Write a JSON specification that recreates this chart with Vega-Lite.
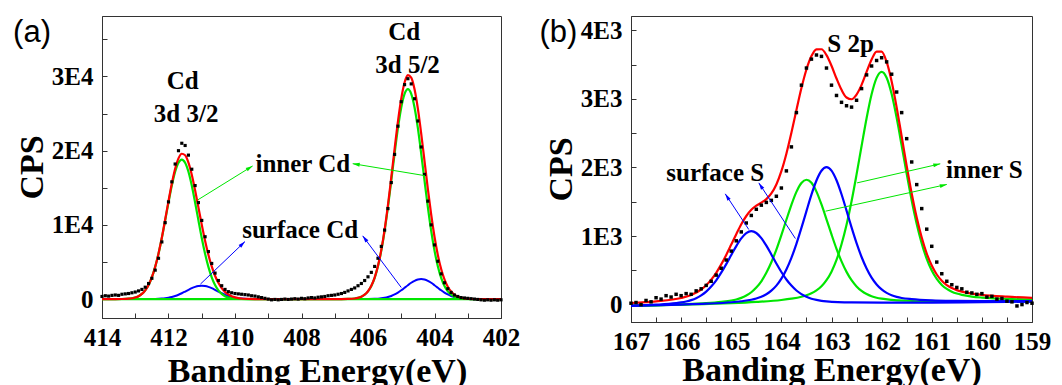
{
"$schema": "https://vega.github.io/schema/vega-lite/v6.json",
"padding": {"left": 12, "top": 15, "right": 0, "bottom": 0},
"spacing": 17,
"config": {
  "view": {"stroke": "#333", "strokeWidth": 1},
  "axis": {"labelFont": "Liberation Serif", "labelFontWeight": "bold", "labelFontSize": 25, "labelColor": "black",
    "titleFont": "Liberation Serif", "titleFontWeight": "bold", "titleFontSize": 34, "titleColor": "black",
    "domainColor": "#333", "tickColor": "#333", "grid": false, "labelFlush": false, "labelOverlap": false, "labelBound": false, "tickSize": -5}
},
"datasets": {
  "aSurf": [
    {"s":"s1","E":414,"c":0},{"s":"s1","E":412.6,"c":5},{"s":"s1","E":412.4,"c":20},{"s":"s1","E":412.3,"c":37},{"s":"s1","E":412.2,"c":66},{"s":"s1","E":412.1,"c":113},{"s":"s1","E":412.0,"c":182},{"s":"s1","E":411.9,"c":281},{"s":"s1","E":411.8,"c":415},{"s":"s1","E":411.7,"c":585},{"s":"s1","E":411.6,"c":788},{"s":"s1","E":411.5,"c":1015},{"s":"s1","E":411.4,"c":1247},{"s":"s1","E":411.3,"c":1465},{"s":"s1","E":411.2,"c":1642},{"s":"s1","E":411.1,"c":1759},{"s":"s1","E":411.0,"c":1800},{"s":"s1","E":410.9,"c":1759},{"s":"s1","E":410.8,"c":1642},{"s":"s1","E":410.7,"c":1465},{"s":"s1","E":410.6,"c":1247},{"s":"s1","E":410.5,"c":1015},{"s":"s1","E":410.4,"c":788},{"s":"s1","E":410.3,"c":585},{"s":"s1","E":410.2,"c":415},{"s":"s1","E":410.1,"c":281},{"s":"s1","E":410.0,"c":182},{"s":"s1","E":409.9,"c":113},{"s":"s1","E":409.8,"c":66},{"s":"s1","E":409.7,"c":37},{"s":"s1","E":409.6,"c":20},{"s":"s1","E":409.4,"c":5},{"s":"s1","E":402,"c":0},
    {"s":"s2","E":414,"c":0},{"s":"s2","E":406.0,"c":8},{"s":"s2","E":405.8,"c":30},{"s":"s2","E":405.7,"c":56},{"s":"s2","E":405.6,"c":100},{"s":"s2","E":405.5,"c":169},{"s":"s2","E":405.4,"c":273},{"s":"s2","E":405.3,"c":422},{"s":"s2","E":405.2,"c":623},{"s":"s2","E":405.1,"c":878},{"s":"s2","E":405.0,"c":1182},{"s":"s2","E":404.9,"c":1523},{"s":"s2","E":404.8,"c":1871},{"s":"s2","E":404.7,"c":2197},{"s":"s2","E":404.6,"c":2463},{"s":"s2","E":404.5,"c":2639},{"s":"s2","E":404.4,"c":2700},{"s":"s2","E":404.3,"c":2639},{"s":"s2","E":404.2,"c":2463},{"s":"s2","E":404.1,"c":2197},{"s":"s2","E":404.0,"c":1871},{"s":"s2","E":403.9,"c":1523},{"s":"s2","E":403.8,"c":1182},{"s":"s2","E":403.7,"c":878},{"s":"s2","E":403.6,"c":623},{"s":"s2","E":403.5,"c":422},{"s":"s2","E":403.4,"c":273},{"s":"s2","E":403.3,"c":169},{"s":"s2","E":403.2,"c":100},{"s":"s2","E":403.1,"c":56},{"s":"s2","E":403.0,"c":30},{"s":"s2","E":402.8,"c":8},{"s":"s2","E":402,"c":0}
  ],
  "aInner": [
    {"s":"i1","E":414,"c":0},{"s":"i1","E":413.6,"c":2},{"s":"i1","E":413.4,"c":11},{"s":"i1","E":413.2,"c":53},{"s":"i1","E":413.1,"c":109},{"s":"i1","E":413.0,"c":211},{"s":"i1","E":412.9,"c":391},{"s":"i1","E":412.8,"c":694},{"s":"i1","E":412.7,"c":1175},{"s":"i1","E":412.6,"c":1901},{"s":"i1","E":412.5,"c":2937},{"s":"i1","E":412.4,"c":4339},{"s":"i1","E":412.3,"c":6114},{"s":"i1","E":412.2,"c":8233},{"s":"i1","E":412.1,"c":10605},{"s":"i1","E":412.0,"c":13025},{"s":"i1","E":411.9,"c":15298},{"s":"i1","E":411.8,"c":17153},{"s":"i1","E":411.7,"c":18373},{"s":"i1","E":411.6,"c":18800},{"s":"i1","E":411.5,"c":18373},{"s":"i1","E":411.4,"c":17153},{"s":"i1","E":411.3,"c":15298},{"s":"i1","E":411.2,"c":13025},{"s":"i1","E":411.1,"c":10605},{"s":"i1","E":411.0,"c":8233},{"s":"i1","E":410.9,"c":6114},{"s":"i1","E":410.8,"c":4339},{"s":"i1","E":410.7,"c":2937},{"s":"i1","E":410.6,"c":1901},{"s":"i1","E":410.5,"c":1175},{"s":"i1","E":410.4,"c":694},{"s":"i1","E":410.3,"c":391},{"s":"i1","E":410.2,"c":211},{"s":"i1","E":410.1,"c":109},{"s":"i1","E":410.0,"c":53},{"s":"i1","E":409.8,"c":11},{"s":"i1","E":409.6,"c":2},{"s":"i1","E":402,"c":0},
    {"s":"i2","E":414,"c":0},{"s":"i2","E":406.8,"c":3},{"s":"i2","E":406.6,"c":17},{"s":"i2","E":406.4,"c":79},{"s":"i2","E":406.3,"c":164},{"s":"i2","E":406.2,"c":317},{"s":"i2","E":406.1,"c":589},{"s":"i2","E":406.0,"c":1044},{"s":"i2","E":405.9,"c":1769},{"s":"i2","E":405.8,"c":2861},{"s":"i2","E":405.7,"c":4420},{"s":"i2","E":405.6,"c":6532},{"s":"i2","E":405.5,"c":9203},{"s":"i2","E":405.4,"c":12393},{"s":"i2","E":405.3,"c":15964},{"s":"i2","E":405.2,"c":19606},{"s":"i2","E":405.1,"c":23028},{"s":"i2","E":405.0,"c":25821},{"s":"i2","E":404.9,"c":27657},{"s":"i2","E":404.8,"c":28300},{"s":"i2","E":404.7,"c":27657},{"s":"i2","E":404.6,"c":25821},{"s":"i2","E":404.5,"c":23028},{"s":"i2","E":404.4,"c":19606},{"s":"i2","E":404.3,"c":15964},{"s":"i2","E":404.2,"c":12393},{"s":"i2","E":404.1,"c":9203},{"s":"i2","E":404.0,"c":6532},{"s":"i2","E":403.9,"c":4420},{"s":"i2","E":403.8,"c":2861},{"s":"i2","E":403.7,"c":1769},{"s":"i2","E":403.6,"c":1044},{"s":"i2","E":403.5,"c":589},{"s":"i2","E":403.4,"c":317},{"s":"i2","E":403.3,"c":164},{"s":"i2","E":403.2,"c":79},{"s":"i2","E":403.0,"c":17},{"s":"i2","E":402.8,"c":3},{"s":"i2","E":402,"c":0}
  ],
  "aFit": [
    {"E":414,"c":0},{"E":413.6,"c":2},{"E":413.4,"c":11},{"E":413.2,"c":53},{"E":413.0,"c":211},{"E":412.9,"c":391},{"E":412.8,"c":695},{"E":412.7,"c":1177},{"E":412.6,"c":1906},{"E":412.5,"c":2947},{"E":412.4,"c":4359},{"E":412.3,"c":6151},{"E":412.2,"c":8299},{"E":412.1,"c":10718},{"E":412.0,"c":13207},{"E":411.9,"c":15579},{"E":411.8,"c":17568},{"E":411.7,"c":18958},{"E":411.6,"c":19588},{"E":411.5,"c":19388},{"E":411.4,"c":18400},{"E":411.3,"c":16763},{"E":411.2,"c":14667},{"E":411.1,"c":12364},{"E":411.0,"c":10033},{"E":410.9,"c":7873},{"E":410.8,"c":5981},{"E":410.7,"c":4402},{"E":410.6,"c":3148},{"E":410.5,"c":2190},{"E":410.4,"c":1482},{"E":410.3,"c":976},{"E":410.2,"c":626},{"E":410.1,"c":390},{"E":410.0,"c":235},{"E":409.9,"c":138},{"E":409.8,"c":77},{"E":409.7,"c":41},{"E":409.6,"c":22},{"E":409.4,"c":5},{"E":409.0,"c":0},{"E":407.0,"c":0},{"E":406.8,"c":3},{"E":406.6,"c":17},{"E":406.4,"c":79},{"E":406.3,"c":165},{"E":406.2,"c":319},{"E":406.1,"c":593},{"E":406.0,"c":1052},{"E":405.9,"c":1785},{"E":405.8,"c":2891},{"E":405.7,"c":4476},{"E":405.6,"c":6632},{"E":405.5,"c":9372},{"E":405.4,"c":12666},{"E":405.3,"c":16386},{"E":405.2,"c":20229},{"E":405.1,"c":23906},{"E":405.0,"c":27003},{"E":404.9,"c":29180},{"E":404.8,"c":30171},{"E":404.7,"c":29854},{"E":404.6,"c":28284},{"E":404.5,"c":25667},{"E":404.4,"c":22306},{"E":404.3,"c":18603},{"E":404.2,"c":14856},{"E":404.1,"c":11400},{"E":404.0,"c":8403},{"E":403.9,"c":5943},{"E":403.8,"c":4043},{"E":403.7,"c":2647},{"E":403.6,"c":1667},{"E":403.5,"c":1011},{"E":403.4,"c":590},{"E":403.3,"c":333},{"E":403.2,"c":179},{"E":403.1,"c":94},{"E":403.0,"c":47},{"E":402.8,"c":11},{"E":402,"c":0}
  ],
  "aPts": [
    {"E":414.0,"c":350},{"E":413.9,"c":450},{"E":413.8,"c":400},{"E":413.7,"c":500},{"E":413.6,"c":550},{"E":413.5,"c":500},{"E":413.4,"c":650},{"E":413.3,"c":700},{"E":413.2,"c":750},{"E":413.1,"c":850},{"E":413.0,"c":950},{"E":412.9,"c":1100},{"E":412.8,"c":1300},{"E":412.7,"c":1600},{"E":412.6,"c":2100},{"E":412.5,"c":2800},{"E":412.4,"c":3900},{"E":412.3,"c":5500},{"E":412.2,"c":7700},{"E":412.1,"c":10300},{"E":412.0,"c":13100},{"E":411.9,"c":15800},{"E":411.8,"c":18200},{"E":411.7,"c":20000},{"E":411.6,"c":21000},{"E":411.5,"c":20700},{"E":411.4,"c":19400},{"E":411.3,"c":17500},{"E":411.2,"c":15300},{"E":411.1,"c":13000},{"E":411.0,"c":10600},{"E":410.9,"c":8400},{"E":410.8,"c":6400},{"E":410.7,"c":4800},{"E":410.6,"c":3500},{"E":410.5,"c":2500},{"E":410.4,"c":1800},{"E":410.3,"c":1300},{"E":410.2,"c":1000},{"E":410.1,"c":850},{"E":410.0,"c":750},{"E":409.9,"c":700},{"E":409.8,"c":650},{"E":409.7,"c":600},{"E":409.6,"c":550},{"E":409.5,"c":450},{"E":409.4,"c":400},{"E":409.3,"c":300},{"E":409.2,"c":200},{"E":409.1,"c":100},{"E":409.0,"c":0},{"E":408.9,"c":-100},{"E":408.8,"c":-50},{"E":408.7,"c":-100},{"E":408.6,"c":-50},{"E":408.5,"c":0},{"E":408.4,"c":-50},{"E":408.3,"c":0},{"E":408.2,"c":50},{"E":408.1,"c":0},{"E":408.0,"c":100},{"E":407.9,"c":50},{"E":407.8,"c":150},{"E":407.7,"c":200},{"E":407.6,"c":150},{"E":407.5,"c":250},{"E":407.4,"c":300},{"E":407.3,"c":350},{"E":407.2,"c":450},{"E":407.1,"c":500},{"E":407.0,"c":550},{"E":406.9,"c":650},{"E":406.8,"c":750},{"E":406.7,"c":900},{"E":406.6,"c":1100},{"E":406.5,"c":1300},{"E":406.4,"c":1500},{"E":406.3,"c":1800},{"E":406.2,"c":2100},{"E":406.1,"c":2500},{"E":406.0,"c":3000},{"E":405.9,"c":3600},{"E":405.8,"c":4400},{"E":405.7,"c":5500},{"E":405.6,"c":7100},{"E":405.5,"c":9300},{"E":405.4,"c":12200},{"E":405.3,"c":15700},{"E":405.2,"c":19500},{"E":405.1,"c":23300},{"E":405.0,"c":26600},{"E":404.9,"c":28900},{"E":404.8,"c":29700},{"E":404.7,"c":29000},{"E":404.6,"c":27000},{"E":404.5,"c":24000},{"E":404.4,"c":20500},{"E":404.3,"c":16800},{"E":404.2,"c":13200},{"E":404.1,"c":10000},{"E":404.0,"c":7300},{"E":403.9,"c":5100},{"E":403.8,"c":3400},{"E":403.7,"c":2200},{"E":403.6,"c":1400},{"E":403.5,"c":900},{"E":403.4,"c":550},{"E":403.3,"c":350},{"E":403.2,"c":200},{"E":403.1,"c":150},{"E":403.0,"c":100},{"E":402.9,"c":50},{"E":402.8,"c":0},{"E":402.7,"c":-50},{"E":402.6,"c":-100},{"E":402.5,"c":-150},{"E":402.4,"c":-100},{"E":402.3,"c":-150},{"E":402.2,"c":-100},{"E":402.1,"c":-150},{"E":402.0,"c":-100}
  ],
  "aTxt": [
    {"t":"Cd","E":411.57,"c":29400},{"t":"3d 3/2","E":411.47,"c":25000},{"t":"Cd","E":404.91,"c":36000},{"t":"3d 5/2","E":404.81,"c":31600},{"t":"inner Cd","E":407.96,"c":18200},{"t":"surface Cd","E":408.04,"c":9300}
  ],
  "aLab": [{"t":"(a)","E":416.105,"c":35840}],
  "aArr": [
    {"id":"g1","k":"inner","E":411.12,"c":13365,"E2":409.47,"c2":17940},
    {"id":"g2","k":"inner","E":404.29,"c":16635,"E2":406.46,"c2":18250},
    {"id":"b1","k":"surface","E":411.04,"c":2019,"E2":409.7,"c2":7750},
    {"id":"b2","k":"surface","E":405.0,"c":1560,"E2":406.16,"c2":8520}
  ],
  "aHead": [
    {"id":"g1","E":409.47,"c":17940},{"id":"g2","E":406.46,"c":18250},{"id":"b1","E":409.7,"c":7750},{"id":"b2","E":406.16,"c":8520}
  ],
  "bSurf": [
    {"s":"s1","E":167,"c":-14},{"s":"s1","E":166.5,"c":-1},{"s":"s1","E":166.1,"c":21},{"s":"s1","E":166.0,"c":31},{"s":"s1","E":165.9,"c":45},{"s":"s1","E":165.8,"c":65},{"s":"s1","E":165.7,"c":93},{"s":"s1","E":165.6,"c":134},{"s":"s1","E":165.5,"c":189},{"s":"s1","E":165.4,"c":263},{"s":"s1","E":165.3,"c":354},{"s":"s1","E":165.2,"c":465},{"s":"s1","E":165.1,"c":590},{"s":"s1","E":165.0,"c":723},{"s":"s1","E":164.9,"c":853},{"s":"s1","E":164.8,"c":965},{"s":"s1","E":164.7,"c":1042},{"s":"s1","E":164.6,"c":1071},{"s":"s1","E":164.5,"c":1044},{"s":"s1","E":164.4,"c":969},{"s":"s1","E":164.3,"c":859},{"s":"s1","E":164.2,"c":731},{"s":"s1","E":164.1,"c":599},{"s":"s1","E":164.0,"c":475},{"s":"s1","E":163.9,"c":366},{"s":"s1","E":163.8,"c":277},{"s":"s1","E":163.7,"c":205},{"s":"s1","E":163.6,"c":152},{"s":"s1","E":163.5,"c":113},{"s":"s1","E":163.4,"c":86},{"s":"s1","E":163.3,"c":68},{"s":"s1","E":163.2,"c":55},{"s":"s1","E":163.1,"c":47},{"s":"s1","E":162.6,"c":31},{"s":"s1","E":162.0,"c":28},{"s":"s1","E":161.0,"c":29},{"s":"s1","E":160.0,"c":36},{"s":"s1","E":159.0,"c":43},
    {"s":"s2","E":167,"c":-18},{"s":"s2","E":166,"c":0},{"s":"s2","E":165.5,"c":13},{"s":"s2","E":165.0,"c":34},{"s":"s2","E":164.8,"c":49},{"s":"s2","E":164.6,"c":70},{"s":"s2","E":164.5,"c":88},{"s":"s2","E":164.4,"c":113},{"s":"s2","E":164.3,"c":150},{"s":"s2","E":164.2,"c":203},{"s":"s2","E":164.1,"c":276},{"s":"s2","E":164.0,"c":378},{"s":"s2","E":163.9,"c":513},{"s":"s2","E":163.8,"c":682},{"s":"s2","E":163.7,"c":886},{"s":"s2","E":163.6,"c":1118},{"s":"s2","E":163.5,"c":1363},{"s":"s2","E":163.4,"c":1604},{"s":"s2","E":163.3,"c":1810},{"s":"s2","E":163.2,"c":1952},{"s":"s2","E":163.1,"c":2004},{"s":"s2","E":163.0,"c":1954},{"s":"s2","E":162.9,"c":1813},{"s":"s2","E":162.8,"c":1609},{"s":"s2","E":162.7,"c":1370},{"s":"s2","E":162.6,"c":1126},{"s":"s2","E":162.5,"c":896},{"s":"s2","E":162.4,"c":694},{"s":"s2","E":162.3,"c":527},{"s":"s2","E":162.2,"c":394},{"s":"s2","E":162.1,"c":294},{"s":"s2","E":162.0,"c":222},{"s":"s2","E":161.9,"c":171},{"s":"s2","E":161.8,"c":135},{"s":"s2","E":161.7,"c":112},{"s":"s2","E":161.6,"c":96},{"s":"s2","E":161.4,"c":79},{"s":"s2","E":161.0,"c":61},{"s":"s2","E":160.5,"c":53},{"s":"s2","E":160.0,"c":50},{"s":"s2","E":159.0,"c":51}
  ],
  "bInner": [
    {"s":"i1","E":167,"c":-17},{"s":"i1","E":166,"c":4},{"s":"i1","E":165.5,"c":21},{"s":"i1","E":165.2,"c":40},{"s":"i1","E":165.0,"c":59},{"s":"i1","E":164.9,"c":75},{"s":"i1","E":164.8,"c":98},{"s":"i1","E":164.7,"c":132},{"s":"i1","E":164.6,"c":180},{"s":"i1","E":164.5,"c":248},{"s":"i1","E":164.4,"c":340},{"s":"i1","E":164.3,"c":463},{"s":"i1","E":164.2,"c":618},{"s":"i1","E":164.1,"c":802},{"s":"i1","E":164.0,"c":1014},{"s":"i1","E":163.9,"c":1237},{"s":"i1","E":163.8,"c":1455},{"s":"i1","E":163.7,"c":1644},{"s":"i1","E":163.6,"c":1774},{"s":"i1","E":163.5,"c":1821},{"s":"i1","E":163.4,"c":1776},{"s":"i1","E":163.3,"c":1648},{"s":"i1","E":163.2,"c":1460},{"s":"i1","E":163.1,"c":1244},{"s":"i1","E":163.0,"c":1023},{"s":"i1","E":162.9,"c":813},{"s":"i1","E":162.8,"c":630},{"s":"i1","E":162.7,"c":477},{"s":"i1","E":162.6,"c":355},{"s":"i1","E":162.5,"c":265},{"s":"i1","E":162.4,"c":199},{"s":"i1","E":162.3,"c":153},{"s":"i1","E":162.2,"c":121},{"s":"i1","E":162.1,"c":100},{"s":"i1","E":162.0,"c":86},{"s":"i1","E":161.8,"c":69},{"s":"i1","E":161.5,"c":56},{"s":"i1","E":161.0,"c":47},{"s":"i1","E":160.0,"c":44},{"s":"i1","E":159.0,"c":48},
    {"s":"i2","E":167,"c":-18},{"s":"i2","E":166,"c":-2},{"s":"i2","E":165,"c":20},{"s":"i2","E":164.5,"c":39},{"s":"i2","E":164.0,"c":67},{"s":"i2","E":163.8,"c":86},{"s":"i2","E":163.6,"c":114},{"s":"i2","E":163.5,"c":135},{"s":"i2","E":163.4,"c":164},{"s":"i2","E":163.3,"c":206},{"s":"i2","E":163.2,"c":266},{"s":"i2","E":163.1,"c":355},{"s":"i2","E":163.0,"c":480},{"s":"i2","E":162.9,"c":651},{"s":"i2","E":162.8,"c":879},{"s":"i2","E":162.7,"c":1164},{"s":"i2","E":162.6,"c":1507},{"s":"i2","E":162.5,"c":1899},{"s":"i2","E":162.4,"c":2312},{"s":"i2","E":162.3,"c":2718},{"s":"i2","E":162.2,"c":3067},{"s":"i2","E":162.1,"c":3307},{"s":"i2","E":162.0,"c":3394},{"s":"i2","E":161.9,"c":3309},{"s":"i2","E":161.8,"c":3070},{"s":"i2","E":161.7,"c":2723},{"s":"i2","E":161.6,"c":2319},{"s":"i2","E":161.5,"c":1908},{"s":"i2","E":161.4,"c":1518},{"s":"i2","E":161.3,"c":1176},{"s":"i2","E":161.2,"c":893},{"s":"i2","E":161.1,"c":667},{"s":"i2","E":161.0,"c":497},{"s":"i2","E":160.9,"c":374},{"s":"i2","E":160.8,"c":287},{"s":"i2","E":160.7,"c":228},{"s":"i2","E":160.6,"c":188},{"s":"i2","E":160.5,"c":161},{"s":"i2","E":160.4,"c":142},{"s":"i2","E":160.2,"c":117},{"s":"i2","E":160.0,"c":102},{"s":"i2","E":159.5,"c":83},{"s":"i2","E":159.0,"c":73}
  ],
  "bFit": [
    {"E":167,"c":23},{"E":166.5,"c":47},{"E":166.0,"c":96},{"E":165.8,"c":139},{"E":165.6,"c":220},{"E":165.5,"c":281},{"E":165.4,"c":364},{"E":165.3,"c":464},{"E":165.2,"c":586},{"E":165.1,"c":724},{"E":165.0,"c":875},{"E":164.9,"c":1027},{"E":164.8,"c":1171},{"E":164.7,"c":1292},{"E":164.6,"c":1382},{"E":164.5,"c":1443},{"E":164.4,"c":1487},{"E":164.3,"c":1539},{"E":164.2,"c":1621},{"E":164.1,"c":1752},{"E":164.0,"c":1946},{"E":163.9,"c":2201},{"E":163.8,"c":2506},{"E":163.7,"c":2836},{"E":163.6,"c":3158},{"E":163.5,"c":3429},{"E":163.4,"c":3624},{"E":163.3,"c":3723},{"E":163.2,"c":3724},{"E":163.1,"c":3638},{"E":163.0,"c":3483},{"E":162.9,"c":3297},{"E":162.8,"c":3132},{"E":162.7,"c":3020},{"E":162.6,"c":2995},{"E":162.5,"c":3063},{"E":162.4,"c":3204},{"E":162.3,"c":3393},{"E":162.2,"c":3574},{"E":162.1,"c":3690},{"E":162.0,"c":3688},{"E":161.9,"c":3539},{"E":161.8,"c":3255},{"E":161.7,"c":2877},{"E":161.6,"c":2452},{"E":161.5,"c":2023},{"E":161.4,"c":1621},{"E":161.3,"c":1269},{"E":161.2,"c":978},{"E":161.1,"c":744},{"E":161.0,"c":569},{"E":160.9,"c":439},{"E":160.8,"c":348},{"E":160.7,"c":285},{"E":160.6,"c":242},{"E":160.5,"c":211},{"E":160.4,"c":189},{"E":160.2,"c":160},{"E":160.0,"c":141},{"E":159.5,"c":115},{"E":159.0,"c":99}
  ],
  "bPts": [
    {"E":167.0,"c":20},{"E":166.9,"c":30},{"E":166.8,"c":0},{"E":166.7,"c":60},{"E":166.6,"c":40},{"E":166.5,"c":100},{"E":166.4,"c":80},{"E":166.3,"c":130},{"E":166.2,"c":110},{"E":166.1,"c":150},{"E":166.0,"c":130},{"E":165.9,"c":160},{"E":165.8,"c":150},{"E":165.7,"c":200},{"E":165.6,"c":230},{"E":165.5,"c":280},{"E":165.4,"c":340},{"E":165.3,"c":430},{"E":165.2,"c":530},{"E":165.1,"c":650},{"E":165.0,"c":780},{"E":164.9,"c":930},{"E":164.8,"c":1060},{"E":164.7,"c":1190},{"E":164.6,"c":1300},{"E":164.5,"c":1390},{"E":164.4,"c":1450},{"E":164.3,"c":1490},{"E":164.2,"c":1520},{"E":164.1,"c":1580},{"E":164.0,"c":1700},{"E":163.9,"c":1950},{"E":163.8,"c":2300},{"E":163.7,"c":2800},{"E":163.6,"c":3200},{"E":163.5,"c":3450},{"E":163.4,"c":3580},{"E":163.3,"c":3640},{"E":163.2,"c":3620},{"E":163.1,"c":3450},{"E":163.0,"c":3200},{"E":162.9,"c":3050},{"E":162.8,"c":2950},{"E":162.7,"c":2900},{"E":162.6,"c":2880},{"E":162.5,"c":2980},{"E":162.4,"c":3150},{"E":162.3,"c":3350},{"E":162.2,"c":3480},{"E":162.1,"c":3560},{"E":162.0,"c":3600},{"E":161.9,"c":3540},{"E":161.8,"c":3360},{"E":161.7,"c":3100},{"E":161.6,"c":2800},{"E":161.5,"c":2420},{"E":161.4,"c":2080},{"E":161.3,"c":1750},{"E":161.2,"c":1400},{"E":161.1,"c":1100},{"E":161.0,"c":850},{"E":160.9,"c":620},{"E":160.8,"c":450},{"E":160.7,"c":340},{"E":160.6,"c":290},{"E":160.5,"c":250},{"E":160.4,"c":230},{"E":160.3,"c":180},{"E":160.2,"c":170},{"E":160.1,"c":150},{"E":160.0,"c":160},{"E":159.9,"c":110},{"E":159.8,"c":120},{"E":159.7,"c":80},{"E":159.6,"c":90},{"E":159.5,"c":50},{"E":159.4,"c":40},{"E":159.3,"c":-20},{"E":159.2,"c":0},{"E":159.1,"c":30},{"E":159.0,"c":20}
  ],
  "bTxt": [
    {"t":"S 2p","E":162.62,"c":3795},{"t":"surface S","E":165.32,"c":1912},{"t":"inner S","E":159.95,"c":1970}
  ],
  "bLab": [{"t":"(b)","E":168.45,"c":3961}],
  "bArr": [
    {"id":"bA","k":"surface","E":164.65,"c":1095,"E2":165.12,"c2":1615},
    {"id":"bB","k":"surface","E":163.72,"c":963,"E2":164.45,"c2":1775},
    {"id":"gA","k":"inner","E":162.49,"c":1775,"E2":160.83,"c2":2053},
    {"id":"gB","k":"inner","E":163.12,"c":1362,"E2":160.70,"c2":1752}
  ],
  "bHead": [
    {"id":"bA","k":"surface","E":165.12,"c":1615},{"id":"bB","k":"surface","E":164.45,"c":1775},{"id":"gA","k":"inner","E":160.83,"c":2053},{"id":"gB","k":"inner","E":160.70,"c":1752}
  ]
},
"hconcat": [
  {
    "width": 399, "height": 302,
    "encoding": {
      "x": {"field": "E", "type": "quantitative", "title": "Banding Energy(eV)",
        "scale": {"domain": [402, 414], "reverse": true, "nice": false, "zero": false},
        "axis": {"values": [402,403,404,405,406,407,408,409,410,411,412,413,414], "labelExpr": "datum.value % 2 === 0 ? format(datum.value, 'd') : ''", "labelPadding": 12, "titlePadding": 4, "titleX": 215}},
      "y": {"field": "c", "type": "quantitative", "title": "CPS",
        "scale": {"domain": [-2550, 38150], "nice": false, "zero": false},
        "axis": {"values": [0,5000,10000,15000,20000,25000,30000,35000], "labelExpr": "datum.value === 0 ? '0' : (datum.value % 10000 === 0 ? (datum.value / 10000) + 'E4' : '')", "labelPadding": 14, "titlePadding": 2}}
    },
    "layer": [
      {"data": {"name": "aSurf"}, "mark": {"type": "line", "color": "#0000ff", "strokeWidth": 2, "interpolate": "monotone", "clip": true}, "encoding": {"detail": {"field": "s"}}},
      {"data": {"name": "aInner"}, "mark": {"type": "line", "color": "#00e600", "strokeWidth": 2.2, "interpolate": "monotone", "clip": true}, "encoding": {"detail": {"field": "s"}}},
      {"data": {"name": "aFit"}, "mark": {"type": "line", "color": "#ff0000", "strokeWidth": 2.2, "interpolate": "monotone", "clip": true}, "encoding": {}},
      {"data": {"name": "aPts"}, "mark": {"type": "point", "shape": "square", "filled": true, "color": "black", "opacity": 1, "size": 10}},
      {"data": {"name": "aArr"}, "transform": [{"filter": "datum.k === 'inner'"}], "mark": {"type": "rule", "color": "#00e600", "strokeWidth": 1}, "encoding": {"x2": {"field": "E2"}, "y2": {"field": "c2"}}},
      {"data": {"name": "aArr"}, "transform": [{"filter": "datum.k === 'surface'"}], "mark": {"type": "rule", "color": "#0000ff", "strokeWidth": 1}, "encoding": {"x2": {"field": "E2"}, "y2": {"field": "c2"}}},
      {"data": {"name": "aHead"}, "transform": [{"filter": "datum.id === 'g1'"}], "mark": {"type": "point", "shape": "M0,0L0.55,2L-0.55,2Z", "filled": true, "opacity": 1, "color": "#00e600", "size": 49, "angle": 58}},
      {"data": {"name": "aHead"}, "transform": [{"filter": "datum.id === 'g2'"}], "mark": {"type": "point", "shape": "M0,0L0.55,2L-0.55,2Z", "filled": true, "opacity": 1, "color": "#00e600", "size": 49, "angle": 279}},
      {"data": {"name": "aHead"}, "transform": [{"filter": "datum.id === 'b1'"}], "mark": {"type": "point", "shape": "M0,0L0.55,2L-0.55,2Z", "filled": true, "opacity": 1, "color": "#0000ff", "size": 49, "angle": 46}},
      {"data": {"name": "aHead"}, "transform": [{"filter": "datum.id === 'b2'"}], "mark": {"type": "point", "shape": "M0,0L0.55,2L-0.55,2Z", "filled": true, "opacity": 1, "color": "#0000ff", "size": 49, "angle": 323}},
      {"data": {"name": "aTxt"}, "mark": {"type": "text", "font": "Liberation Serif", "fontWeight": "bold", "fontSize": 25, "color": "black", "align": "center", "baseline": "middle"}, "encoding": {"text": {"field": "t"}}},
      {"data": {"name": "aLab"}, "mark": {"type": "text", "font": "Liberation Sans", "fontWeight": "normal", "fontSize": 31, "color": "black", "align": "center", "baseline": "middle", "clip": false}, "encoding": {"text": {"field": "t"}}}
    ]
  },
  {
    "width": 401, "height": 306,
    "encoding": {
      "x": {"field": "E", "type": "quantitative", "title": "Banding Energy(eV)",
        "scale": {"domain": [159, 167], "reverse": true, "nice": false, "zero": false},
        "axis": {"values": [159,159.5,160,160.5,161,161.5,162,162.5,163,163.5,164,164.5,165,165.5,166,166.5,167], "labelExpr": "datum.value % 1 === 0 ? format(datum.value, 'd') : ''", "labelPadding": 12, "titlePadding": -1}},
      "y": {"field": "c", "type": "quantitative", "title": "CPS",
        "scale": {"domain": [-254, 4209], "nice": false, "zero": false},
        "axis": {"values": [0,500,1000,1500,2000,2500,3000,3500,4000], "labelExpr": "datum.value === 0 ? '0' : (datum.value % 1000 === 0 ? (datum.value / 1000) + 'E3' : '')", "labelPadding": 14, "titlePadding": 2}}
    },
    "layer": [
      {"data": {"name": "bInner"}, "mark": {"type": "line", "color": "#00e600", "strokeWidth": 2.2, "interpolate": "monotone", "clip": true}, "encoding": {"detail": {"field": "s"}}},
      {"data": {"name": "bSurf"}, "mark": {"type": "line", "color": "#0000ff", "strokeWidth": 2.2, "interpolate": "monotone", "clip": true}, "encoding": {"detail": {"field": "s"}}},
      {"data": {"name": "bFit"}, "mark": {"type": "line", "color": "#ff0000", "strokeWidth": 2.2, "interpolate": "monotone", "clip": true}, "encoding": {}},
      {"data": {"name": "bPts"}, "mark": {"type": "point", "shape": "square", "filled": true, "color": "black", "opacity": 1, "size": 12}},
      {"data": {"name": "bArr"}, "transform": [{"filter": "datum.k === 'inner'"}], "mark": {"type": "rule", "color": "#00e600", "strokeWidth": 1}, "encoding": {"x2": {"field": "E2"}, "y2": {"field": "c2"}}},
      {"data": {"name": "bArr"}, "transform": [{"filter": "datum.k === 'surface'"}], "mark": {"type": "rule", "color": "#0000ff", "strokeWidth": 1}, "encoding": {"x2": {"field": "E2"}, "y2": {"field": "c2"}}},
      {"data": {"name": "bHead"}, "transform": [{"filter": "datum.k === 'inner'"}], "mark": {"type": "point", "shape": "M0,0L0.55,2L-0.55,2Z", "filled": true, "opacity": 1, "color": "#00e600", "size": 49, "angle": 77}},
      {"data": {"name": "bHead"}, "transform": [{"filter": "datum.k === 'surface'"}], "mark": {"type": "point", "shape": "M0,0L0.55,2L-0.55,2Z", "filled": true, "opacity": 1, "color": "#0000ff", "size": 49, "angle": 327}},
      {"data": {"name": "bTxt"}, "mark": {"type": "text", "font": "Liberation Serif", "fontWeight": "bold", "fontSize": 25, "color": "black", "align": "center", "baseline": "middle"}, "encoding": {"text": {"field": "t"}}},
      {"data": {"name": "bLab"}, "mark": {"type": "text", "font": "Liberation Sans", "fontWeight": "normal", "fontSize": 31, "color": "black", "align": "center", "baseline": "middle", "clip": false}, "encoding": {"text": {"field": "t"}}}
    ]
  }
]
}
